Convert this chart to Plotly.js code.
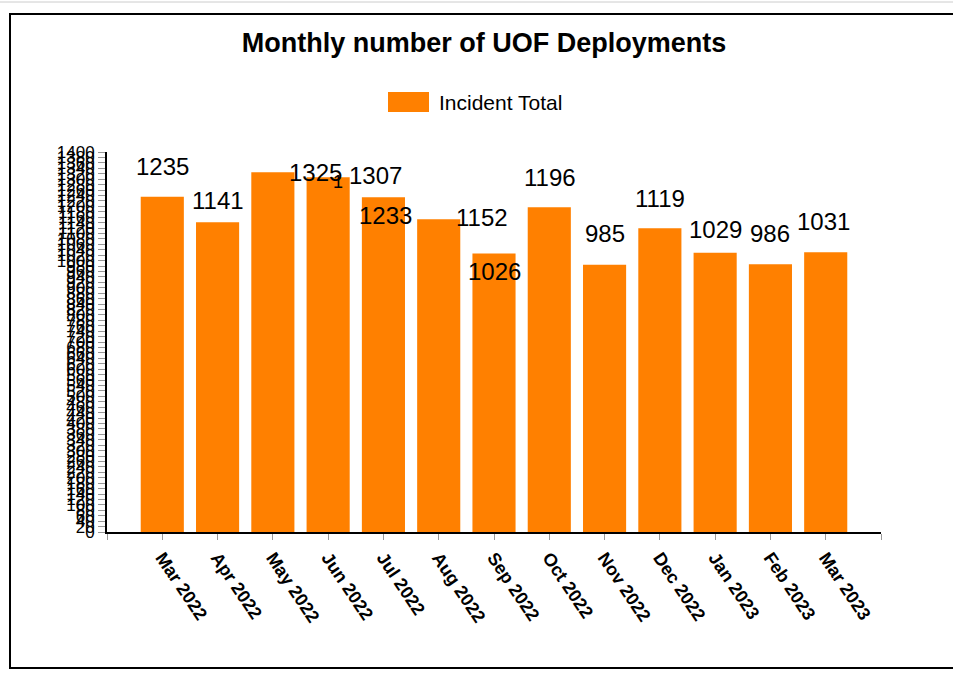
<!DOCTYPE html>
<html>
<head>
<meta charset="utf-8">
<script src="https://cdn.plot.ly/plotly-3.0.1.min.js"></script>
<style>html,body{margin:0;padding:0;background:#fff;}#chart{width:953px;height:674px;}</style>
</head>
<body>
<div id="chart"></div>
<script>
// ---- data ----
const months = ["Mar 2022","Apr 2022","May 2022","Jun 2022","Jul 2022","Aug 2022","Sep 2022","Oct 2022","Nov 2022","Dec 2022","Jan 2023","Feb 2023","Mar 2023"];
const incidentTotal = [1235,1141,1325,1307,1233,1152,1026,1196,985,1119,1029,986,1031];
const seriesName = "Incident Total";
const chartTitle = "Monthly number of UOF Deployments";

// label offsets (px) as they appear in the reference
const labelDx = [0,0,43,47,2,43,0,1,0,0,0,0,-2];
const labelDy = [30,22,0,2,-18,2,-18,30,31,30,23,31,31];

const fontFam = "Liberation Sans, Arial, sans-serif";
const W = 953, H = 674, L = 107, R = 72, T = 152, B = 142;
const pw = W - L - R, ph = H - T - B;
const px = x => (x - L) / pw;
const py = y => (H - B - y) / ph;

const annotations = months.map((m, i) => ({
  x: m, y: incidentTotal[i], xref: 'x', yref: 'y',
  text: String(incidentTotal[i]), showarrow: false,
  xanchor: 'center', yanchor: 'middle',
  xshift: labelDx[i], yshift: labelDy[i],
  font: {family: fontFam, size: 24, color: '#000'}
}));
annotations.push({
  x: px(437), y: py(102), xref: 'paper', yref: 'paper', xanchor: 'left', yanchor: 'middle',
  text: seriesName, showarrow: false, font: {family: fontFam, size: 21, color: '#000'}
});
annotations.push({
  x: px(338), y: py(182), xref: 'paper', yref: 'paper', xanchor: 'center', yanchor: 'middle',
  text: "1", showarrow: false, font: {family: fontFam, size: 18, color: '#000'}
});

const trace = {
  type: 'bar', x: months, y: incidentTotal, name: seriesName,
  marker: {color: '#FF8000'}, showlegend: false, hoverinfo: 'x+y'
};

const layout = {
  width: W, height: H,
  margin: {l: L, r: R, t: T, b: B, pad: 0},
  paper_bgcolor: '#fff', plot_bgcolor: '#fff',
  title: {text: chartTitle, x: 484 / W, xref: 'container', xanchor: 'center',
          y: 1 - 43 / H, yref: 'container', yanchor: 'middle',
          font: {family: fontFam, size: 27, weight: 'bold', color: '#000'}},
  bargap: 0.22,
  showlegend: false,
  xaxis: {
    type: 'category', categoryorder: 'array',
    categoryarray: [' '].concat(months, ['  ']),
    range: [0, 14], tickangle: 56,
    ticks: 'outside', ticklen: 6, tickcolor: '#999', tickwidth: 1,
    showline: true, linecolor: '#000', linewidth: 2,
    showgrid: false, zeroline: false,
    tickfont: {family: fontFam, size: 18, weight: 'bold', color: '#000'}
  },
  yaxis: {
    range: [0, 1400], tickmode: 'linear', tick0: 0, dtick: 20,
    ticks: 'outside', ticklen: 7, tickcolor: '#999', tickwidth: 1,
    showline: true, linecolor: '#000', linewidth: 2,
    showgrid: false, zeroline: false,
    tickfont: {family: fontFam, size: 17, color: '#000'}
  },
  annotations: annotations,
  shapes: [
    {type: 'rect', xref: 'paper', yref: 'paper', x0: px(388), x1: px(429), y0: py(112), y1: py(92),
     fillcolor: '#FF8000', line: {width: 0}},
    {type: 'rect', xref: 'paper', yref: 'paper', x0: px(10), x1: px(1000), y0: py(668), y1: py(14),
     fillcolor: 'rgba(0,0,0,0)', line: {color: '#000', width: 2}},
    {type: 'line', xref: 'paper', yref: 'paper', x0: px(0), x1: px(953), y0: py(2), y1: py(2),
     line: {color: '#ccc', width: 1}}
  ]
};

Plotly.newPlot('chart', [trace], layout, {displayModeBar: false, staticPlot: true});
</script>
</body>
</html>
